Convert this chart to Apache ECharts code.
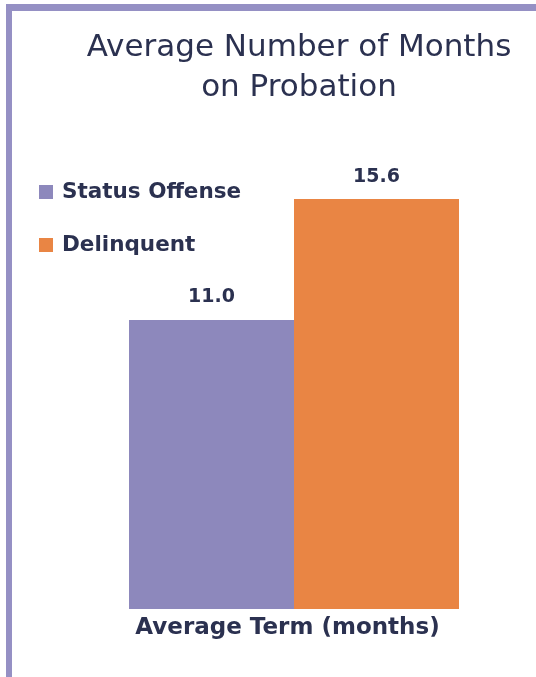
<!DOCTYPE html>
<html>
<head>
<meta charset="utf-8">
<script src="https://cdn.jsdelivr.net/npm/echarts@6/dist/echarts.min.js"></script>
<style>
  html, body { margin: 0; padding: 0; background: #fff; }
  #chart { width: 536px; height: 677px; }
</style>
</head>
<body>
<div id="chart"></div>
<script>
// data
const categories = ["Average Term (months)"];
const seriesNames = ["Status Offense", "Delinquent"];
const statusValues = [11.0];
const delinquentValues = [15.6];

const FONT = "'DejaVu Sans', sans-serif";
const TEXT = "#2b3150";
const PURPLE = "#8d88bc";
const ORANGE = "#e98544";

const chart = echarts.init(document.getElementById("chart"));

const barLabel = {
  show: true,
  position: "top",
  distance: 13,
  formatter: (p) => p.value.toFixed(1),
  color: TEXT,
  fontFamily: FONT,
  fontSize: 19,
  fontWeight: "bold",
};

chart.setOption({
  backgroundColor: "#fff",
  animation: false,
  title: {
    text: "Average Number of Months\non Probation",
    left: 294,
    textAlign: "center",
    top: 23,
    textStyle: {
      color: TEXT,
      fontFamily: FONT,
      fontSize: 31,
      fontWeight: "normal",
      lineHeight: 40,
    },
  },
  legend: {
    orient: "vertical",
    left: 39,
    top: 181,
    padding: 0,
    itemWidth: 14,
    itemHeight: 14,
    itemGap: 31,
    icon: "rect",
    data: seriesNames,
    textStyle: {
      color: TEXT,
      fontFamily: FONT,
      fontSize: 21.5,
      fontWeight: "bold",
      padding: [0, 0, 0, 4],
    },
  },
  graphic: [
    { type: "rect", left: 6, top: 4, shape: { width: 530, height: 7 }, style: { fill: "#9590c4" } },
    { type: "rect", left: 6, top: 4, shape: { width: 6, height: 673 }, style: { fill: "#9590c4" } },
  ],
  grid: { left: 129, right: 77, top: 188.6, bottom: 68 },
  xAxis: {
    type: "category",
    data: categories,
    axisLine: { show: false },
    axisTick: { show: false },
    axisLabel: {
      color: TEXT,
      fontFamily: FONT,
      fontSize: 23,
      fontWeight: "bold",
      margin: 8,
      padding: [0, 13, 0, 0],
    },
  },
  yAxis: {
    type: "value",
    min: 0,
    max: 16,
    show: false,
    splitLine: { show: false },
  },
  series: [
    {
      name: seriesNames[0],
      type: "bar",
      data: statusValues,
      barWidth: 165,
      barGap: "0%",
      itemStyle: { color: PURPLE },
      label: barLabel,
    },
    {
      name: seriesNames[1],
      type: "bar",
      data: delinquentValues,
      barWidth: 165,
      barGap: "0%",
      itemStyle: { color: ORANGE },
      label: barLabel,
    },
  ],
});
</script>
</body>
</html>
